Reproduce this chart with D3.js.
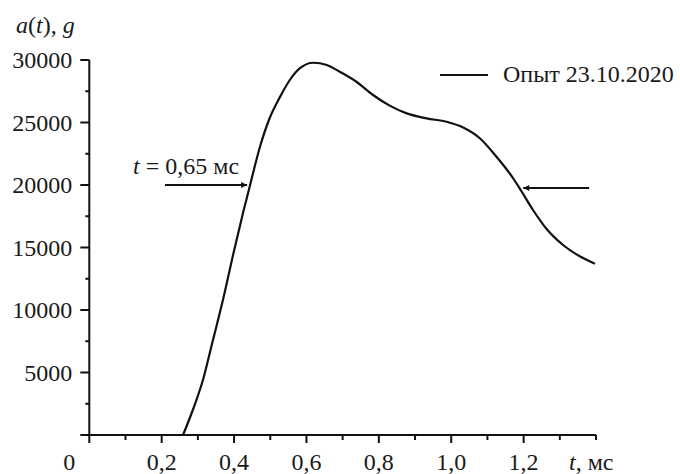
<!DOCTYPE html>
<html>
<head>
<meta charset="utf-8">
<script src="https://cdn.jsdelivr.net/npm/d3@7"></script>
</head>
<body style="margin:0">
<svg id="chart" width="680" height="474"></svg>
<script>
// ── Data ─────────────────────────────────────────────────────
const T_MS = [0.259, 0.286, 0.314, 0.34, 0.37, 0.398, 0.425, 0.446, 0.471, 0.499,
  0.527, 0.554, 0.582, 0.619, 0.656, 0.692, 0.738, 0.784, 0.83, 0.877,
  0.932, 0.987, 1.033, 1.079, 1.125, 1.171, 1.194, 1.226, 1.263, 1.309,
  1.355, 1.397];
const ACCEL = [0, 2000, 4400, 7400, 10900, 14500, 17800, 20200, 23000, 25400,
  27050, 28400, 29350, 29780, 29600, 29060, 28260, 27200, 26350, 25730,
  25330, 25060, 24600, 23740, 22260, 20540, 19500, 18000, 16500, 15200,
  14300, 13700];

const X_TICKS  = [0.2, 0.4, 0.6, 0.8, 1.0, 1.2];
const X_MINOR  = [0.1, 0.3, 0.5, 0.7, 0.9, 1.1, 1.3, 1.4];
const Y_TICKS  = [5000, 10000, 15000, 20000, 25000, 30000];
const Y_MINOR  = [2500, 7500, 12500, 17500, 22500, 27500];

const LEGEND_LABEL = 'Опыт 23.10.2020';
// arrows: [from t, to t, level a]
const ARROWS = [[0.209, 0.436, 20000], [1.381, 1.199, 19760]];

// ── Layout ───────────────────────────────────────────────────
const FONT = 24;
const INK = '#1a1a1a';
const svg = d3.select('#chart');

const x = d3.scaleLinear().domain([0, 1.4]).range([89.3, 596]);
const y = d3.scaleLinear().domain([0, 30000]).range([435, 60]);

const fmt = d => d3.format('.1f')(d).replace('.', ',');

// every label goes through here so the serif face sticks
function label(sel) {
  sel.attr('font-family', '"Liberation Serif"')
    .attr('style', "font-family: 'Liberation Serif'")
    .attr('font-size', FONT)
    .attr('fill', INK);
}

svg.append('defs').append('marker')
  .attr('id', 'head')
  .attr('viewBox', '0 0 10 10')
  .attr('refX', 10).attr('refY', 5)
  .attr('markerWidth', 4).attr('markerHeight', 3)
  .attr('orient', 'auto')
  .append('path').attr('d', 'M0,0 L10,5 L0,10 z').attr('fill', '#111');

// ── Axes ─────────────────────────────────────────────────────
const xAxis = svg.append('g').attr('transform', `translate(0,${y(0)})`);
xAxis.append('line')
  .attr('x1', x(0) - 9).attr('x2', x(1.4))
  .attr('stroke', '#111').attr('stroke-width', 2);
xAxis.selectAll('.maj').data([0, ...X_TICKS]).join('line')
  .attr('x1', d => x(d)).attr('x2', d => x(d))
  .attr('y1', 0).attr('y2', 8)
  .attr('stroke', '#111').attr('stroke-width', 2);
xAxis.selectAll('.min').data(X_MINOR).join('line')
  .attr('x1', d => x(d)).attr('x2', d => x(d))
  .attr('y1', 0).attr('y2', 5)
  .attr('stroke', '#111').attr('stroke-width', 2);
xAxis.selectAll('text.tl').data(X_TICKS).join('text')
  .attr('class', 'tl')
  .attr('x', d => x(d)).attr('y', 35)
  .attr('text-anchor', 'middle')
  .call(label)
  .text(fmt);
xAxis.append('text')
  .attr('x', x(0) - 20).attr('y', 35)
  .attr('text-anchor', 'middle')
  .call(label)
  .text('0');
const xTitle = xAxis.append('text')
  .attr('x', 569).attr('y', 35)
  .call(label);
xTitle.append('tspan').attr('font-style', 'italic').text('t');
xTitle.append('tspan').text(', мс');

const yAxis = svg.append('g').attr('transform', `translate(${x(0)},0)`);
yAxis.append('line')
  .attr('y1', y(0)).attr('y2', y(30000))
  .attr('stroke', '#111').attr('stroke-width', 2);
yAxis.selectAll('.maj').data(Y_TICKS).join('line')
  .attr('x1', -9).attr('x2', 0)
  .attr('y1', d => y(d)).attr('y2', d => y(d))
  .attr('stroke', '#111').attr('stroke-width', 2);
yAxis.selectAll('.min').data(Y_MINOR).join('line')
  .attr('x1', -4).attr('x2', 0)
  .attr('y1', d => y(d)).attr('y2', d => y(d))
  .attr('stroke', '#111').attr('stroke-width', 2);
yAxis.selectAll('text').data(Y_TICKS).join('text')
  .attr('x', -17).attr('y', d => y(d) + 8)
  .attr('text-anchor', 'end')
  .call(label)
  .text(d => d);

const yTitle = svg.append('text')
  .attr('x', 16).attr('y', 33)
  .call(label);
yTitle.append('tspan').attr('font-style', 'italic').text('a');
yTitle.append('tspan').text('(');
yTitle.append('tspan').attr('font-style', 'italic').text('t');
yTitle.append('tspan').text('), ');
yTitle.append('tspan').attr('font-style', 'italic').text('g');

// ── Curve ────────────────────────────────────────────────────
const pts = T_MS.map((t, i) => [t, ACCEL[i]]);
svg.append('path')
  .datum(pts)
  .attr('fill', 'none')
  .attr('stroke', '#111')
  .attr('stroke-width', 2.2)
  .attr('d', d3.line().x(d => x(d[0])).y(d => y(d[1])).curve(d3.curveMonotoneX));

// ── Annotations ──────────────────────────────────────────────
svg.selectAll('.arrow').data(ARROWS).join('line')
  .attr('x1', d => x(d[0])).attr('x2', d => x(d[1]))
  .attr('y1', d => y(d[2])).attr('y2', d => y(d[2]))
  .attr('stroke', '#111').attr('stroke-width', 2)
  .attr('marker-end', 'url(#head)');

const note = svg.append('text')
  .attr('x', 133).attr('y', 174)
  .call(label);
note.append('tspan').attr('font-style', 'italic').text('t');
note.append('tspan').text(' = 0,65 мс');

// ── Legend ───────────────────────────────────────────────────
svg.append('line')
  .attr('x1', 440).attr('x2', 488).attr('y1', 75).attr('y2', 75)
  .attr('stroke', '#111').attr('stroke-width', 2);
svg.append('text')
  .attr('x', 503).attr('y', 82)
  .call(label)
  .text(LEGEND_LABEL);
</script>
</body>
</html>
